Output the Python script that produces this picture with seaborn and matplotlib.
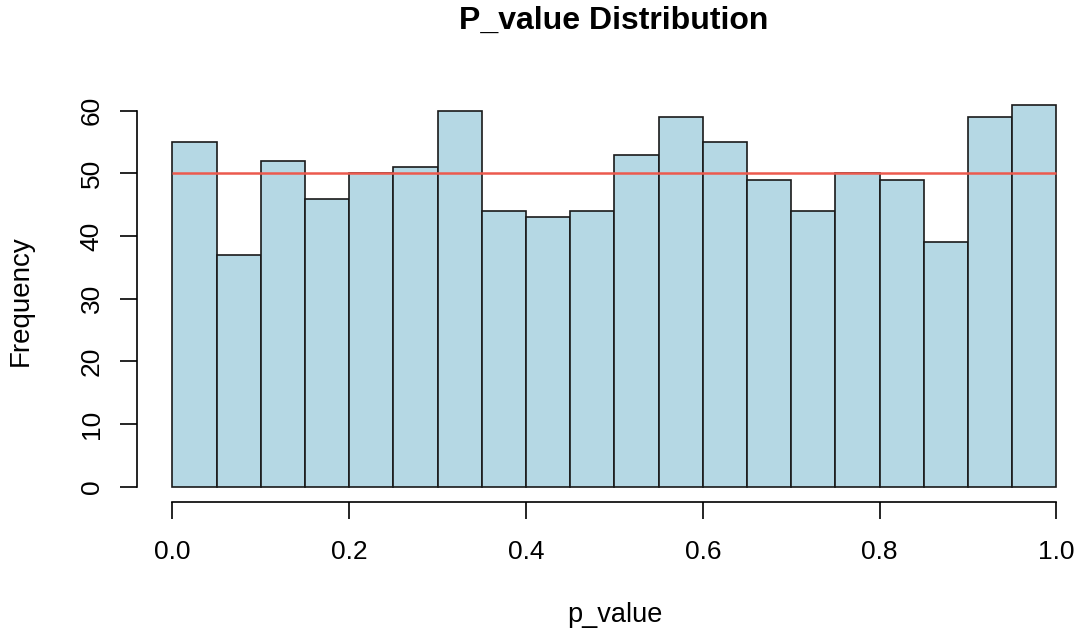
import numpy as np
import pandas as pd
import seaborn as sns
from matplotlib import pyplot as plt

# histogram counts, 20 bins of width 0.05
bin_edges = [0.0, 0.05, 0.1, 0.15, 0.2, 0.25, 0.3, 0.35, 0.4, 0.45, 0.5,
             0.55, 0.6, 0.65, 0.7, 0.75, 0.8, 0.85, 0.9, 0.95, 1.0]
bin_mids = [0.025, 0.075, 0.125, 0.175, 0.225, 0.275, 0.325, 0.375, 0.425, 0.475,
            0.525, 0.575, 0.625, 0.675, 0.725, 0.775, 0.825, 0.875, 0.925, 0.975]
counts = [55, 37, 52, 46, 50, 51, 60, 44, 43, 44,
          53, 59, 55, 49, 44, 50, 49, 39, 59, 61]
expected = 50
x_ticks = [0.0, 0.2, 0.4, 0.6, 0.8, 1.0]
y_ticks = [0, 10, 20, 30, 40, 50, 60]

df = pd.DataFrame({'p_value': bin_mids, 'n': counts})

sns.set_style('white')
plt.rcParams['font.family'] = ['Liberation Sans', 'DejaVu Sans']
plt.rcParams['text.color'] = 'black'
plt.rcParams['axes.labelcolor'] = 'black'
plt.rcParams['xtick.color'] = 'black'
plt.rcParams['ytick.color'] = 'black'

fig = plt.figure(figsize=(10.8, 6.42), dpi=100)
ax = fig.add_axes([0.1269, 0.218, 0.8676, 0.643])

sns.histplot(data=df, x='p_value', weights='n', bins=bin_edges,
             color='#B5D8E4', alpha=1, edgecolor='#1a1a1a', linewidth=1.2, ax=ax)
ax.hlines(expected, 0, 1, color='#EC5A4E', linewidth=1.8)

ax.set_xlim(-0.04, 1.02)
ax.set_ylim(-2.44, 63.44)
ax.set_xticks(x_ticks)
ax.set_xticklabels(['0.0', '0.2', '0.4', '0.6', '0.8', '1.0'], fontsize=19)
ax.set_yticks(y_ticks)
ax.set_yticklabels([str(v) for v in y_ticks], fontsize=19, rotation=90, va='center')

for s in ['top', 'right']:
    ax.spines[s].set_visible(False)
ax.spines['left'].set_bounds(0, 60)
ax.spines['bottom'].set_bounds(0, 1)
for s in ['left', 'bottom']:
    ax.spines[s].set_color('black')
    ax.spines[s].set_linewidth(1.2)
ax.tick_params(axis='both', direction='out', length=12, width=1.2, left=True, bottom=True)
ax.tick_params(axis='x', pad=15)
ax.tick_params(axis='y', pad=12)

ax.set_xlabel('p_value', fontsize=19.5)
ax.set_ylabel('Frequency', fontsize=20)
ax.xaxis.set_label_coords(0.5 + 9 / 937, -0.242)
ax.yaxis.set_label_coords(-0.110, 0.5 - 5 / 413)

fig.text(614 / 1080, 0.955, 'P_value Distribution', fontsize=23, fontweight='bold',
         ha='center', va='baseline')

fig.savefig('out.png', dpi=100)
